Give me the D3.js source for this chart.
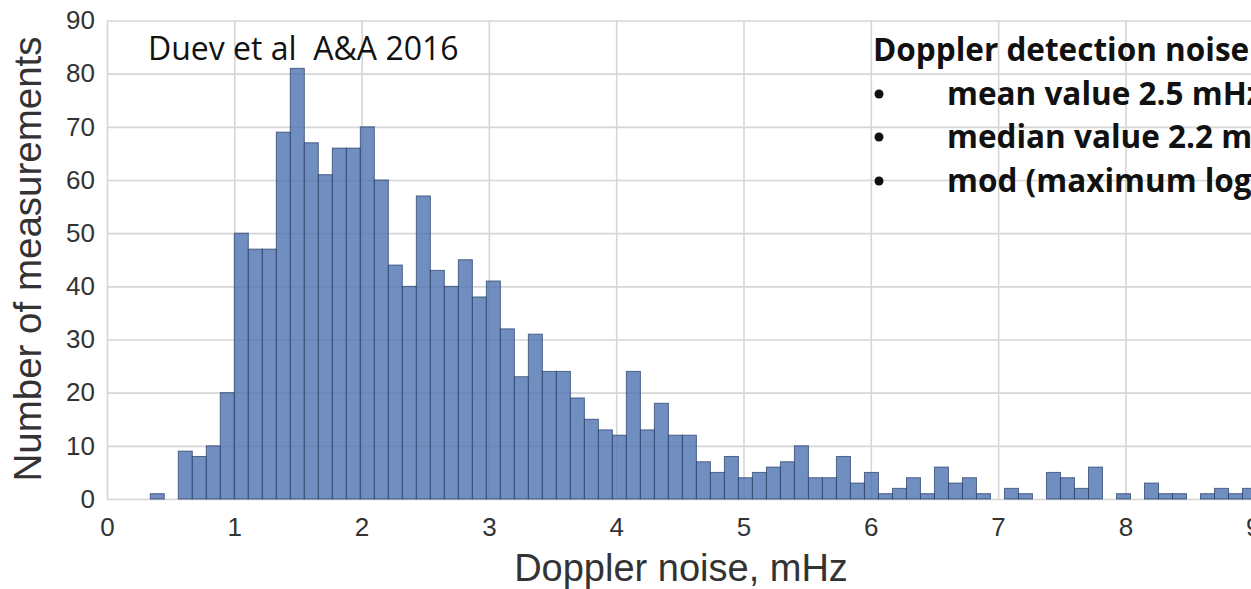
<!DOCTYPE html>
<html>
<head>
<meta charset="utf-8">
<script src="https://cdn.jsdelivr.net/npm/d3@7"></script>
<style>
  html, body { margin: 0; padding: 0; background: #fff; }
  svg { display: block; }
  .note { white-space: pre; }
</style>
</head>
<body>
<div id="chart"></div>
<script>
// histogram of Doppler noise, bins of ~0.11 mHz starting at 0.34
const BIN_START = 0.34
const BIN_WIDTH = 0.11
const counts = [
  1, 0, 9, 8, 10, 20, 50, 47, 47, 69,
  81, 67, 61, 66, 66, 70, 60, 44, 40, 57,
  43, 40, 45, 38, 41, 32, 23, 31, 24, 24,
  19, 15, 13, 12, 24, 13, 18, 12, 12, 7,
  5, 8, 4, 5, 6, 7, 10, 4, 4, 8,
  3, 5, 1, 2, 4, 1, 6, 3, 4, 1,
  0, 2, 1, 0, 5, 4, 2, 6, 0, 1,
  0, 3, 1, 1, 0, 1, 2, 1, 2
]
const xTicks = [0, 1, 2, 3, 4, 5, 6, 7, 8, 9]
const yTicks = [0, 10, 20, 30, 40, 50, 60, 70, 80, 90]
const noteSource = 'Duev et al  A&A 2016'
const noteTitle = 'Doppler detection noise'
const noteItems = ['mean value 2.5 mHz', 'median value 2.2 mHz', 'mod (maximum log']

const width = 1251
const height = 589

const svg = d3.select('#chart').append('svg')
  .attr('width', width)
  .attr('height', height)

const x = d3.scaleLinear().domain([0, 10]).range([107, 107 + 1273])
const y = d3.scaleLinear().domain([0, 90]).range([499, 20.5])

const bins = counts.map((c, i) => ({
  x0: BIN_START + i * BIN_WIDTH,
  x1: BIN_START + (i + 1) * BIN_WIDTH,
  n: c
}))

// grid (seaborn whitegrid look)
svg.append('g')
  .attr('transform', `translate(0,${y(0)})`)
  .call(d3.axisBottom(x).tickValues(xTicks).tickSize(-(y(0) - y(90))).tickFormat(''))
  .call(g => g.select('.domain').remove())
  .call(g => g.selectAll('line').attr('stroke', '#d6d6d6').attr('stroke-width', 1.6))

svg.append('g')
  .attr('transform', `translate(${x(0)},0)`)
  .call(d3.axisLeft(y).tickValues(yTicks).tickSize(-(x(10) - x(0))).tickFormat(''))
  .call(g => g.select('.domain').remove())
  .call(g => g.selectAll('line').attr('stroke', '#d6d6d6').attr('stroke-width', 1.6))

// bars
svg.append('g')
  .selectAll('rect')
  .data(bins.filter(d => d.n > 0))
  .join('rect')
  .attr('x', d => x(d.x0))
  .attr('y', d => y(d.n))
  .attr('width', d => x(d.x1) - x(d.x0))
  .attr('height', d => y(0) - y(d.n))
  .attr('fill', '#4C72B0')
  .attr('fill-opacity', 0.8)
  .attr('stroke', '#2c426a')
  .attr('stroke-opacity', 0.75)
  .attr('stroke-width', 1)

// tick labels
svg.append('g')
  .attr('transform', `translate(0,${y(0)})`)
  .call(d3.axisBottom(x).tickValues(xTicks).tickSize(0).tickPadding(19))
  .call(g => g.select('.domain').remove())
  .call(g => g.selectAll('text')
    .attr('font-family', 'Liberation Sans, Arial, sans-serif')
    .attr('font-size', 26)
    .attr('fill', '#333'))

svg.append('g')
  .attr('transform', `translate(${x(0)},0)`)
  .call(d3.axisLeft(y).tickValues(yTicks).tickSize(0).tickPadding(12))
  .call(g => g.select('.domain').remove())
  .call(g => g.selectAll('text')
    .attr('font-family', 'Liberation Sans, Arial, sans-serif')
    .attr('font-size', 26)
    .attr('fill', '#333'))

// axis titles
svg.append('text')
  .attr('x', 681)
  .attr('y', 581)
  .attr('text-anchor', 'middle')
  .attr('font-family', 'Liberation Sans, Arial, sans-serif')
  .attr('font-size', 38)
  .attr('fill', '#333')
  .text('Doppler noise, mHz')

svg.append('text')
  .attr('transform', 'translate(41,259) rotate(-90)')
  .attr('text-anchor', 'middle')
  .attr('font-family', 'Liberation Sans, Arial, sans-serif')
  .attr('font-size', 38.5)
  .attr('fill', '#333')
  .text('Number of measurements')

// notes
svg.append('text')
  .attr('class', 'note')
  .attr('x', 148)
  .attr('y', 60)
  .attr('font-family', 'Open Sans, sans-serif')
  .attr('font-size', 32)
  .attr('fill', '#111')
  .text(noteSource)

svg.append('text')
  .attr('x', 873)
  .attr('y', 61)
  .attr('font-family', 'Open Sans, sans-serif')
  .attr('font-weight', 'bold')
  .attr('font-size', 31.5)
  .attr('fill', '#111')
  .text(noteTitle)

const lineY = [105, 148, 192]
noteItems.forEach((t, i) => {
  svg.append('circle')
    .attr('cx', 879)
    .attr('cy', lineY[i] - 11)
    .attr('r', 4.5)
    .attr('fill', '#111')
  svg.append('text')
    .attr('x', 947)
    .attr('y', lineY[i])
    .attr('font-family', 'Open Sans, sans-serif')
    .attr('font-weight', 'bold')
    .attr('font-size', 31.5)
    .attr('fill', '#111')
    .text(t)
})
</script>
</body>
</html>
